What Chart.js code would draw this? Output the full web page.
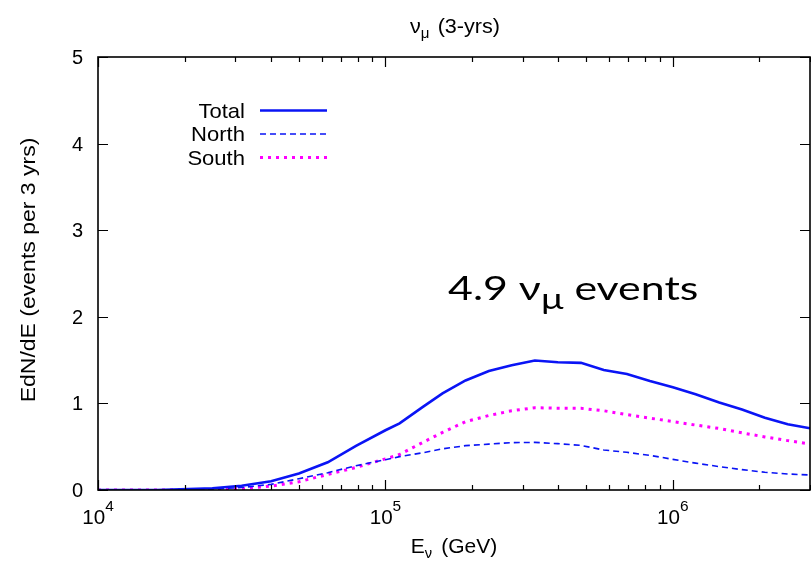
<!DOCTYPE html>
<html>
<head>
<meta charset="utf-8">
<title>nu_mu (3-yrs)</title>
<script src="https://cdn.jsdelivr.net/npm/chart.js@4/dist/chart.umd.min.js"></script>
<style>
  html, body { margin: 0; padding: 0; background: #fff; }
  #wrap { width: 811px; height: 564px; }
</style>
</head>
<body>
<div id="wrap"><canvas id="spectrum" width="811" height="564"></canvas></div>
<script>
/* ============================================================
   nu_mu event spectrum (3 yrs) — Chart.js
   ============================================================ */

// Data
const ENERGY_GEV = [1e4, 1.6e4, 2.5e4, 3.16e4, 4e4, 5e4, 6.3e4, 7.9e4, 1e5, 1.12e5, 1.35e5, 1.58e5, 1.9e5, 2.29e5,
                    2.75e5, 3.31e5, 3.98e5, 4.79e5, 5.75e5, 6.92e5, 8.32e5, 1e6, 1.2e6, 1.45e6, 1.74e6, 2.09e6, 2.51e6, 3e6];
const TOTAL = [0, 0, 0.02, 0.05, 0.1, 0.19, 0.32, 0.51, 0.69, 0.77, 0.96, 1.115, 1.265, 1.375,
               1.44, 1.495, 1.476, 1.468, 1.386, 1.34, 1.259, 1.186, 1.105, 1.01, 0.93, 0.835, 0.758, 0.712];
const NORTH = [0, 0, 0.01, 0.028, 0.065, 0.13, 0.2, 0.28, 0.35, 0.385, 0.43, 0.475, 0.512, 0.53,
               0.547, 0.55, 0.535, 0.515, 0.462, 0.435, 0.4, 0.354, 0.31, 0.27, 0.235, 0.205, 0.185, 0.173];
const SOUTH = [0, 0, 0.005, 0.015, 0.045, 0.095, 0.18, 0.26, 0.36, 0.41, 0.55, 0.665, 0.789, 0.86,
               0.915, 0.95, 0.945, 0.943, 0.915, 0.87, 0.83, 0.79, 0.75, 0.71, 0.66, 0.613, 0.57, 0.531];

const SERIES_NAMES = ['Total', 'North', 'South'];
const X_MAJOR = [1e4, 1e5, 1e6];
const X_EXPONENTS = ['4', '5', '6'];
const Y_TICKS = [0, 1, 2, 3, 4, 5];

const BLUE = '#0a14f5';
const MAGENTA = '#ff00ff';
const SANS = '"Liberation Sans", Arial, sans-serif';
const ANN_FONT = 'Lato, "Open Sans", sans-serif';

function points(values) {
  return ENERGY_GEV.map((e, i) => ({ x: e, y: values[i] }));
}

// ── Text helpers (horizontal stretch to match the original glyph widths) ──
function drawRuns(ctx, runs, x, y, family, sx, align) {
  ctx.save();
  let total = 0;
  runs.forEach(r => {
    ctx.font = `${r.size}px ${family}`;
    r.w = ctx.measureText(r.t).width;
    total += r.w + (r.gap || 0);
  });
  total *= sx;
  let left = align === 'right' ? x - total : align === 'center' ? x - total / 2 : x;
  ctx.translate(left, y);
  ctx.scale(sx, 1);
  ctx.textAlign = 'left';
  ctx.textBaseline = 'alphabetic';
  ctx.fillStyle = '#000';
  let cx = 0;
  runs.forEach(r => {
    ctx.font = `${r.size}px ${family}`;
    ctx.fillText(r.t, cx, r.dy || 0);
    cx += r.w + (r.gap || 0);
  });
  ctx.restore();
  return total;
}

// ── Gnuplot-like frame, ticks, labels, legend ──────────────────
const gnuplotFrame = {
  id: 'gnuplotFrame',
  afterDatasetsDraw(chart) {
    const ctx = chart.ctx;
    const { left, right, top, bottom } = chart.chartArea;
    const xs = chart.scales.x, ys = chart.scales.y;

    ctx.save();
    ctx.strokeStyle = '#000';

    // ticks (inward, mirrored)
    ctx.lineWidth = 1.2;
    ctx.beginPath();
    for (let d = 4; d <= 6; d++) {
      for (let k = 1; k <= 9; k++) {
        const v = k * Math.pow(10, d);
        if (v > xs.max) break;
        const px = Math.round(xs.getPixelForValue(v)) + 0.5;
        const len = k === 1 ? 10 : 5;
        ctx.moveTo(px, bottom); ctx.lineTo(px, bottom - len);
        ctx.moveTo(px, top); ctx.lineTo(px, top + len);
      }
    }
    Y_TICKS.forEach(v => {
      const py = Math.round(ys.getPixelForValue(v)) + 0.5;
      ctx.moveTo(left, py); ctx.lineTo(left + 10, py);
      ctx.moveTo(right, py); ctx.lineTo(right - 10, py);
    });
    ctx.stroke();

    // border
    ctx.lineWidth = 1.6;
    ctx.strokeRect(left, top, right - left, bottom - top);
    ctx.restore();

    // y tick labels
    Y_TICKS.forEach(v => {
      drawRuns(ctx, [{ t: String(v), size: 20 }], left - 15, ys.getPixelForValue(v) + 7, SANS, 1.0, 'right');
    });

    // x tick labels 10^n
    X_MAJOR.forEach((v, i) => {
      drawRuns(ctx, [{ t: '10', size: 20 }, { t: X_EXPONENTS[i], size: 15, dy: -13 }],
               xs.getPixelForValue(v), 524, SANS, 1.03, 'center');
    });

    // titles
    drawRuns(ctx, [{ t: 'ν', size: 20 }, { t: 'μ', size: 14, dy: 5, gap: 2 }, { t: ' (3-yrs)', size: 20 }],
             455, 33, SANS, 1.08, 'center');
    drawRuns(ctx, [{ t: 'E', size: 20 }, { t: 'ν', size: 14, dy: 5, gap: 3 }, { t: ' (GeV)', size: 20 }],
             454, 553, SANS, 1.05, 'center');

    ctx.save();
    ctx.translate(35, 270);
    ctx.rotate(-Math.PI / 2);
    ctx.scale(1.15, 1);
    drawRuns(ctx, [{ t: 'EdN/dE (events per 3 yrs)', size: 20 }], 0, 0, SANS, 1.0, 'center');
    ctx.restore();

    // legend
    chart.data.datasets.forEach((ds, i) => {
      const y = 110.5 + i * 23.5;
      drawRuns(ctx, [{ t: SERIES_NAMES[i], size: 21 }], 245, y + 7, SANS, 1.05, 'right');
      ctx.save();
      ctx.strokeStyle = ds.borderColor;
      ctx.lineWidth = ds.borderWidth;
      ctx.setLineDash(ds.borderDash || []);
      ctx.beginPath();
      ctx.moveTo(260, y); ctx.lineTo(327, y);
      ctx.stroke();
      ctx.restore();
    });

    // annotation
    const annRuns = [{ t: '4.9 ', size: 33 }, { t: 'ν', size: 33 }, { t: 'μ', size: 29, dy: 9 }, { t: ' events', size: 33 }];
    drawRuns(ctx, annRuns, 448, 300, ANN_FONT, 1.3, 'left');
  }
};

// ── Chart ──────────────────────────────────────────────────────
function renderSpectrum() {
  const canvas = document.getElementById('spectrum');
  new Chart(canvas, {
    type: 'line',
    data: {
      datasets: [
        { label: SERIES_NAMES[0], data: points(TOTAL), borderColor: BLUE, borderWidth: 2.6, pointRadius: 0, tension: 0 },
        { label: SERIES_NAMES[1], data: points(NORTH), borderColor: BLUE, borderWidth: 1.6, borderDash: [6, 4], pointRadius: 0, tension: 0 },
        { label: SERIES_NAMES[2], data: points(SOUTH), borderColor: MAGENTA, borderWidth: 3, borderDash: [3, 5], pointRadius: 0, tension: 0 }
      ]
    },
    options: {
      responsive: false,
      animation: false,
      events: [],
      layout: { padding: { left: 98, right: 1, top: 57, bottom: 74 } },
      plugins: { legend: { display: false }, tooltip: { enabled: false }, title: { display: false } },
      scales: {
        x: { type: 'logarithmic', min: 1e4, max: 3e6, display: false },
        y: { type: 'linear', min: 0, max: 5, display: false }
      }
    },
    plugins: [gnuplotFrame]
  });
}

document.addEventListener('DOMContentLoaded', renderSpectrum);
</script>
</body>
</html>
